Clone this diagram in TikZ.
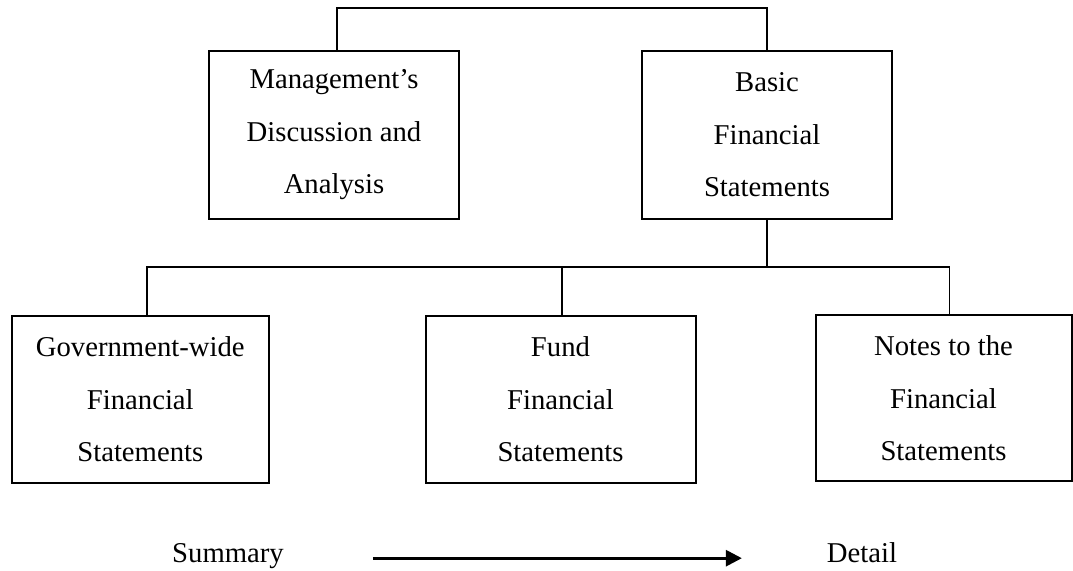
\documentclass[tikz,border=0pt]{standalone}
\usepackage{fontspec}
\setmainfont{Liberation Serif}
\usepackage{tikz}
\usetikzlibrary{positioning,arrows.meta,calc}

\begin{document}
\begin{tikzpicture}[
  x=0.5pt, y=-0.5pt,
  box/.style={draw, line width=1pt, align=center, minimum height=84pt, inner sep=0pt},
  link/.style={line width=0.8pt},
  arrow/.style={-{Triangle[length=8pt,width=8pt]}, line width=1.4pt},
  every node/.style={font=\fontsize{14.35}{26.25}\selectfont},
]
  \useasboundingbox (0,0) rectangle (1073,571);

  \node[box, minimum width=125pt] (mda) at (334,135) {Management's\\Discussion and\\Analysis};
  \node[box, minimum width=125pt] (bfs) at (767,135) {Basic\\Financial\\Statements};

  \node[box, minimum width=128.5pt, minimum height=83.5pt] (gov) at (140.3,399.2) {Government-wide\\Financial\\Statements};
  \node[box, minimum width=135pt, minimum height=83.5pt] (fund) at (560.5,399.2) {Fund\\Financial\\Statements};
  \node[box, minimum width=128pt, minimum height=83pt] (notes) at (943.5,398.5) {Notes to the\\Financial\\Statements};

  \coordinate (top) at (552,8.3);
  \coordinate (bus) at (548,267.3);

  \draw[link] ([xshift=1.5pt]mda.north) |- (top) -| (bfs.north);
  \draw[link] (bfs.south) -- (bfs.south |- bus);
  \draw[link] ([xshift=3.4pt]gov.north) |- ([xshift=2.9pt]notes.north |- bus) -- ([xshift=2.9pt]notes.north);
  \draw[link] ([xshift=0.6pt]fund.north) -- ([xshift=0.6pt]fund.north |- bus);

  \node[anchor=base] (summary) at (228,563) {Summary};
  \node[anchor=base] (detail) at (862,563) {Detail};
  \draw[arrow] ([xshift=41pt,yshift=2.4pt]summary.base east) -- ([xshift=-39pt,yshift=2.4pt]detail.base west);
\end{tikzpicture}
\end{document}
